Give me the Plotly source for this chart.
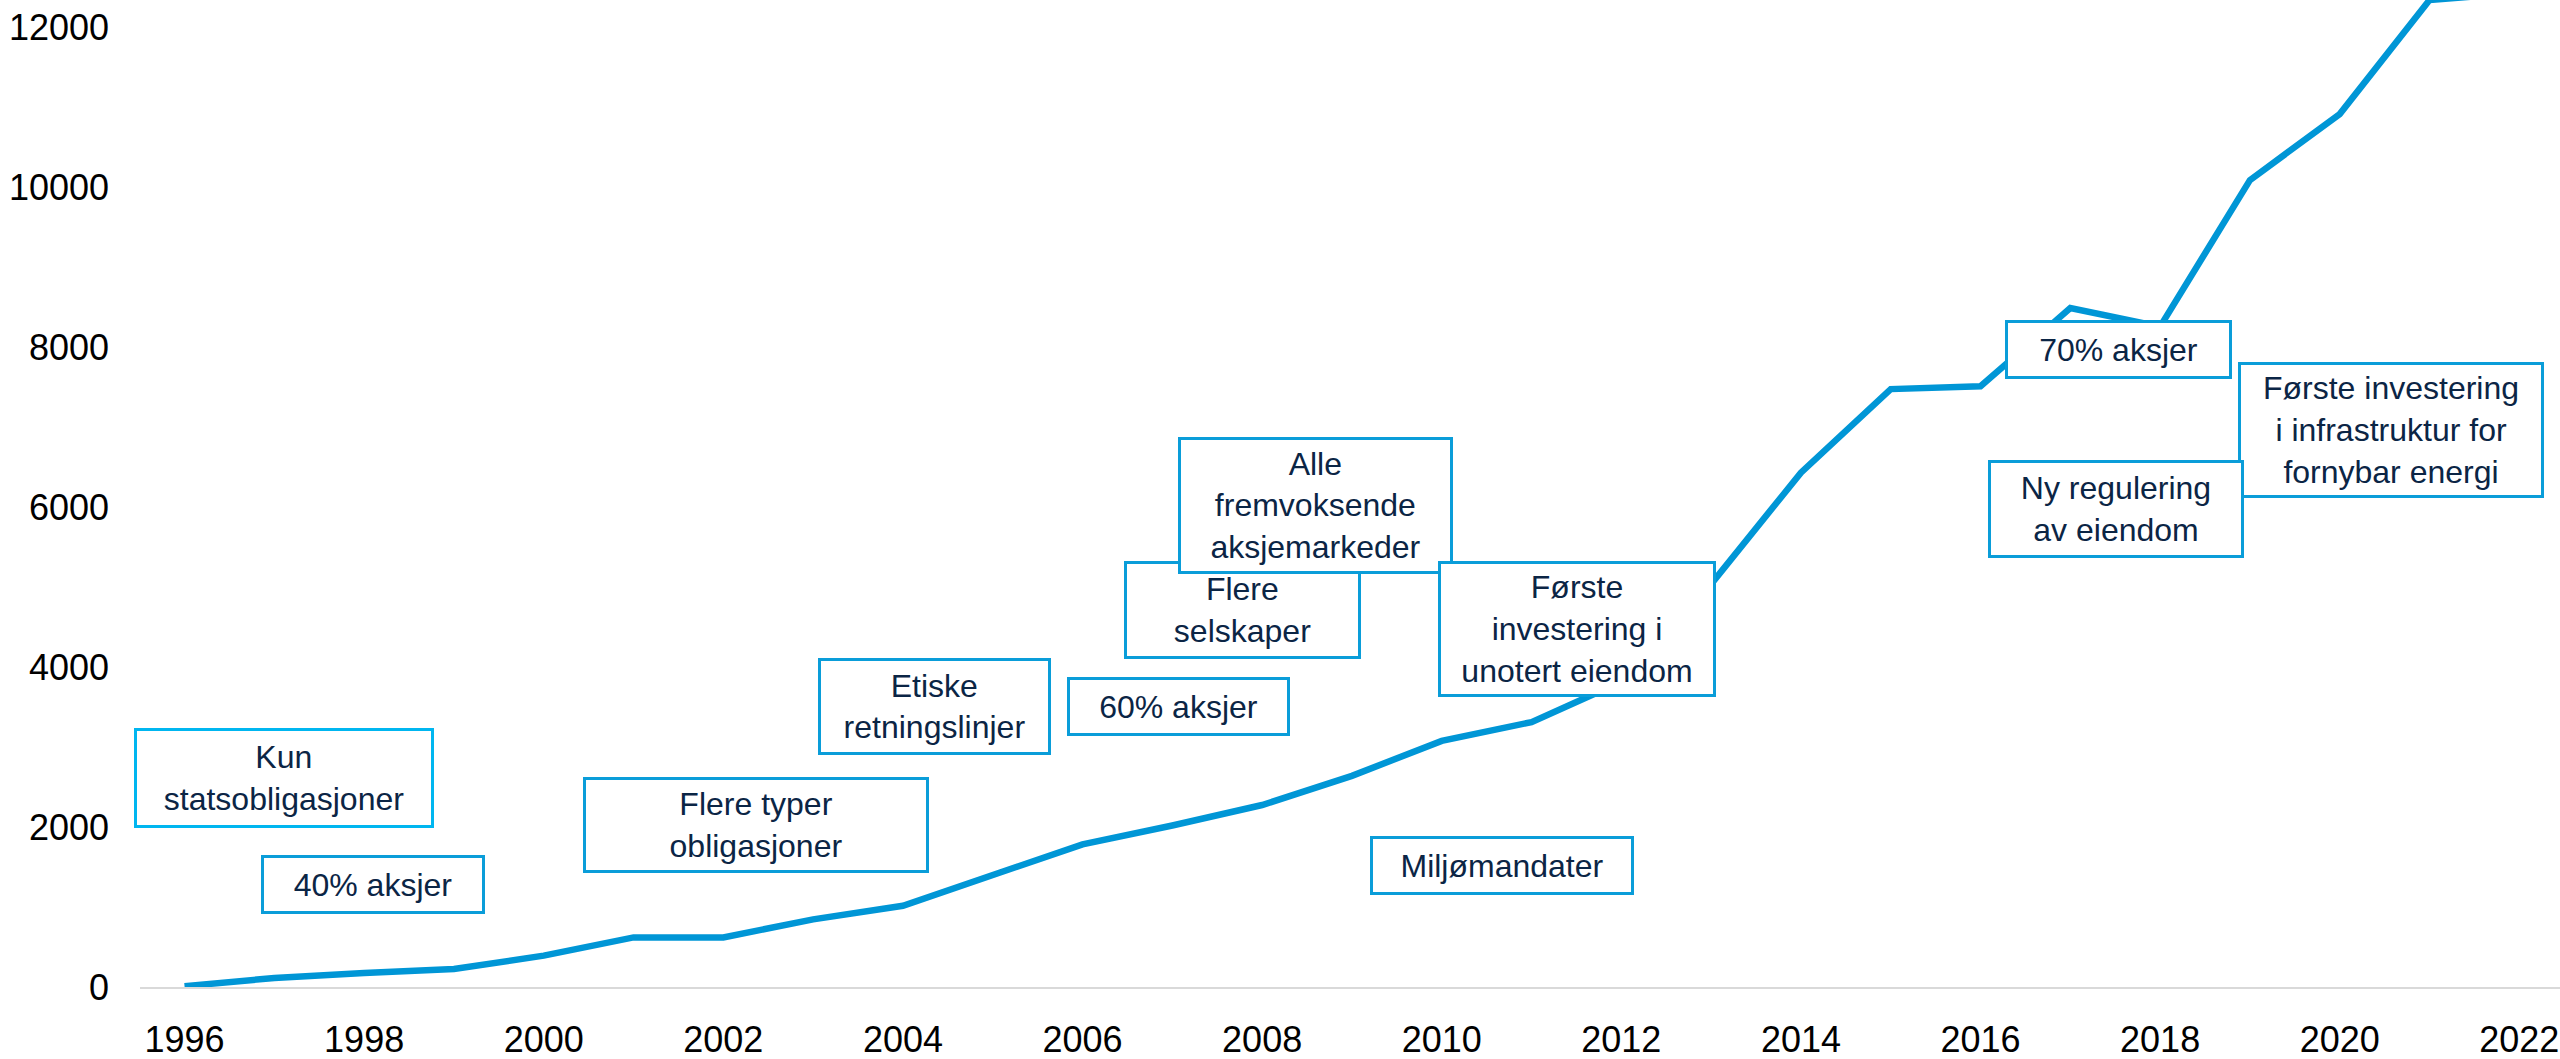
import plotly.graph_objects as go

# ---- data ----
years = list(range(1996, 2023))
values = [10, 113, 175, 225, 392, 620, 620, 845, 1016, 1399, 1784, 2019, 2275, 2640,
          3077, 3312, 3816, 5038, 6431, 7475, 7510, 8488, 8256, 10088, 10914, 12340, 12429]

box_labels = [
    "Kun<br>statsobligasjoner",
    "40% aksjer",
    "Flere typer<br>obligasjoner",
    "Etiske<br>retningslinjer",
    "60% aksjer",
    "Flere<br>selskaper",
    "Alle<br>fremvoksende<br>aksjemarkeder",
    "Første<br>investering i<br>unotert eiendom",
    "Miljømandater",
    "70% aksjer",
    "Første investering<br>i infrastruktur for<br>fornybar energi",
    "Ny regulering<br>av eiendom",
]
x_ticks = list(range(1996, 2023, 2))
y_ticks = list(range(0, 12001, 2000))

# ---- layout of the boxes (centre in data coords, outer size in px) ----
box_layout = [
    (1997.108, 2619, 300, 100, "#00B6F0"),
    (1998.099, 1287, 224, 59, "#0A9DD9"),
    (2002.364, 2031, 346, 96, "#0A9DD9"),
    (2004.352, 3512, 233, 97, "#0A9DD9"),
    (2007.069, 3512, 223, 59, "#0A9DD9"),
    (2007.782, 4719, 237, 98, "#0A9DD9"),
    (2008.595, 6025, 275, 137, "#0A9DD9"),
    (2011.507, 4481, 278, 136, "#0A9DD9"),
    (2010.671, 1525, 264, 59, "#0A9DD9"),
    (2017.537, 7975, 227, 59, "#0A9DD9"),
    (2020.571, 6969, 306, 136, "#0A9DD9"),
    (2017.509, 5981, 256, 98, "#0A9DD9"),
]

FONT = "Arial, 'Liberation Sans', sans-serif"
BW = 3

fig = go.Figure()
fig.add_trace(go.Scatter(
    x=years, y=values, mode="lines",
    line=dict(color="#0096D6", width=6.5),
    hoverinfo="skip", showlegend=False,
))

annotations = []
for text, (cx, cy, w, h, bc) in zip(box_labels, box_layout):
    annotations.append(dict(
        x=cx, y=cy, xref="x", yref="y", text=text, showarrow=False,
        xanchor="center", yanchor="middle", align="center", valign="middle",
        width=w - 2 * BW, height=h - 2 * BW, borderpad=0, borderwidth=BW,
        bordercolor=bc, bgcolor="white",
        font=dict(family=FONT, size=32, color="#0B2545"),
    ))

fig.update_layout(
    width=2560, height=1059,
    margin=dict(l=140, r=0, t=0, b=72),
    paper_bgcolor="white", plot_bgcolor="white",
    annotations=annotations,
    xaxis=dict(
        range=[1995.504, 2022.453], tickmode="array", tickvals=x_ticks,
        ticktext=[str(t) for t in x_ticks],
        showgrid=False, zeroline=False, showline=True, linecolor="#D9D9D9",
        linewidth=2, ticks="", layer="below traces",
        tickfont=dict(family=FONT, size=36, color="black"),
        ticklabelstandoff=20,
    ),
    yaxis=dict(
        range=[0, 12340], tickmode="array", tickvals=y_ticks,
        ticktext=[str(t) for t in y_ticks],
        showgrid=False, zeroline=False, showline=False, ticks="",
        tickfont=dict(family=FONT, size=36, color="black"),
        ticklabelstandoff=30,
    ),
)

fig.write_html("out.html", config={"displayModeBar": False},
               post_script="document.body.style.margin='0';")
